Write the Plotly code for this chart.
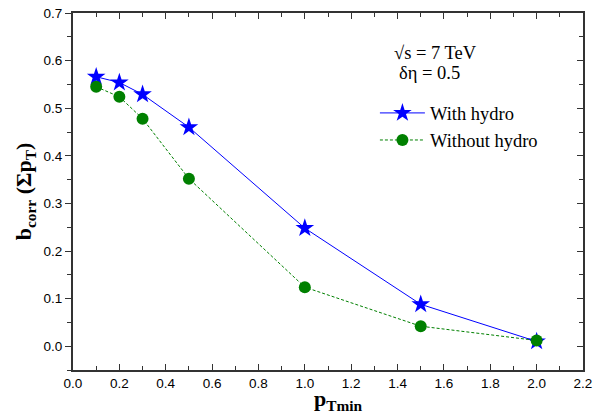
import plotly.graph_objects as go

# p_Tmin thresholds (GeV/c)
pt_min = [0.1, 0.2, 0.3, 0.5, 1.0, 1.5, 2.0]
# correlation strength b_corr(Σp_T)
b_with_hydro = [0.566, 0.554, 0.529, 0.460, 0.248, 0.088, 0.010]
b_without_hydro = [0.545, 0.524, 0.478, 0.352, 0.124, 0.042, 0.012]

x_ticks = [0.0, 0.2, 0.4, 0.6, 0.8, 1.0, 1.2, 1.4, 1.6, 1.8, 2.0, 2.2]
y_ticks = [0.0, 0.1, 0.2, 0.3, 0.4, 0.5, 0.6, 0.7]

serif = "Liberation Serif, Times New Roman, serif"
sans = "Liberation Sans, Arial, sans-serif"
axis_col = "#333333"

fig = go.Figure()
fig.add_trace(go.Scatter(
    x=pt_min, y=b_with_hydro, mode="lines+markers", name="With hydro",
    line=dict(color="#0000ff", width=1),
    marker=dict(symbol="star", size=14, color="#0000ff"),
))
fig.add_trace(go.Scatter(
    x=pt_min, y=b_without_hydro, mode="lines+markers", name="Without hydro",
    line=dict(color="#008000", width=1, dash="3px,2px"),
    marker=dict(symbol="circle", size=12, color="#008000"),
))
# invisible trace to carry the right-hand axis
fig.add_trace(go.Scatter(x=[None], y=[None], yaxis="y2", showlegend=False))

fig.update_layout(
    width=595, height=419,
    margin=dict(l=73, r=12, t=13, b=49),
    paper_bgcolor="white", plot_bgcolor="white",
    showlegend=True,
    legend=dict(
        x=0.592, y=0.772, xanchor="left", yanchor="top",
        font=dict(family=serif, size=18.5, color="black"),
        bgcolor="rgba(0,0,0,0)", itemwidth=45, tracegroupgap=0,
    ),
    xaxis=dict(
        range=[0, 2.2], tickvals=x_ticks, ticktext=[f"{v:.1f}" for v in x_ticks],
        ticks="inside", ticklen=6, tickwidth=1.3, tickcolor=axis_col,
        minor=dict(ticks="inside", ticklen=4, dtick=0.1, tickcolor=axis_col, tickwidth=1.3),
        showline=True, linecolor=axis_col, linewidth=1.8, mirror="ticks",
        showgrid=False, zeroline=False, automargin=False,
        tickfont=dict(family=sans, size=13.5, color="black"),
    ),
    yaxis=dict(
        range=[-0.05, 0.7], tickvals=y_ticks, ticktext=[f"{v:.1f}" for v in y_ticks],
        ticks="outside", ticklen=6, tickwidth=1.3, tickcolor=axis_col,
        minor=dict(ticks="outside", ticklen=4, dtick=0.05, tick0=0, tickcolor=axis_col, tickwidth=1.3),
        showline=True, linecolor=axis_col, linewidth=1.8,
        showgrid=False, zeroline=False, automargin=False,
        tickfont=dict(family=sans, size=13.5, color="black"),
        title=dict(text="<b>b<sub>corr</sub> (Σp<sub>T</sub>)</b>", font=dict(family=serif, size=22, color="black"), standoff=6),
    ),
    yaxis2=dict(
        overlaying="y", side="right", range=[-0.05, 0.7], tickvals=y_ticks,
        showticklabels=False, ticks="inside", ticklen=6, tickwidth=1.3, tickcolor=axis_col,
        minor=dict(ticks="inside", ticklen=4, dtick=0.05, tick0=0, tickcolor=axis_col, tickwidth=1.3),
        showline=True, linecolor=axis_col, linewidth=1.8,
        showgrid=False, zeroline=False, automargin=False,
    ),
)

# x-axis title
fig.add_annotation(x=0.52, y=-0.083, xref="paper", yref="paper", xanchor="center", yanchor="middle",
                   text="<b>p<sub>Tmin</sub></b>", showarrow=False,
                   font=dict(family=serif, size=22, color="black"))

fig.add_annotation(x=0.625, y=0.888, xref="paper", yref="paper", xanchor="left", yanchor="middle",
                   text="√s = 7 TeV", showarrow=False, font=dict(family=serif, size=18.5, color="black"))
fig.add_annotation(x=0.635, y=0.832, xref="paper", yref="paper", xanchor="left", yanchor="middle",
                   text="δη = 0.5", showarrow=False, font=dict(family=serif, size=18.5, color="black"))

fig.write_html("out.html")
